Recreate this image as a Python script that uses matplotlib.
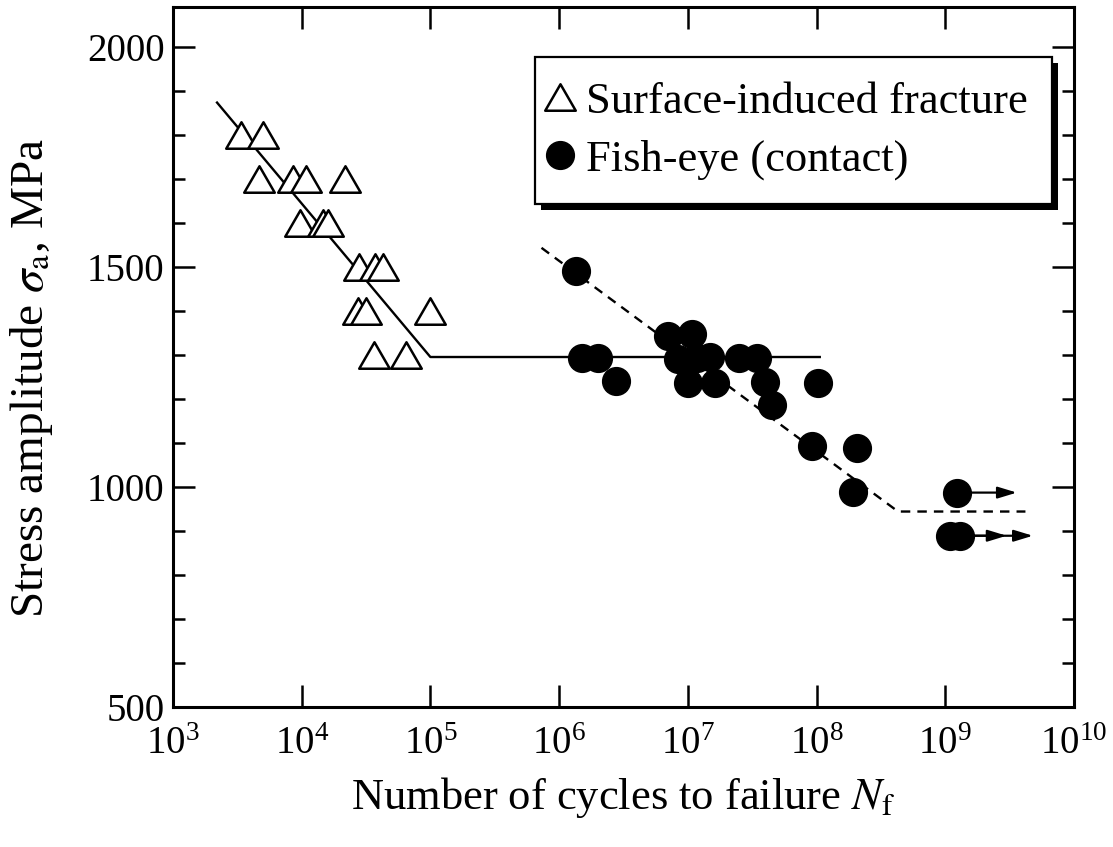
import matplotlib
matplotlib.use("Agg")
import matplotlib.pyplot as plt
from matplotlib.patches import Rectangle
from matplotlib.path import Path
from matplotlib.transforms import IdentityTransform
import numpy as np

plt.rcParams['font.family'] = ['Liberation Serif', 'DejaVu Serif']
plt.rcParams['mathtext.fontset'] = 'stix'

# surface-induced fracture (open triangles)
surf_n = [3.36e3, 4.98e3, 4.69e3, 8.6e3, 1.08e4, 2.16e4, 9.7e3, 1.47e4, 1.6e4,
          2.8e4, 3.7e4, 4.3e4, 2.75e4, 3.16e4, 9.9e4, 3.66e4, 6.5e4]
surf_s = [1800, 1800, 1700, 1700, 1700, 1700, 1600, 1600, 1600,
          1500, 1500, 1500, 1400, 1400, 1400, 1300, 1300]

# fish-eye (filled circles)
fish_n = [1.35e6, 1.52e6, 2.02e6, 2.77e6, 7.06e6, 1.07e7, 8.4e6, 1.17e7, 1.49e7,
          1.01e7, 1.63e7, 2.5e7, 3.43e7, 3.98e7, 4.5e7, 1.03e8, 9.2e7, 2.05e8,
          1.91e8, 1.23e9, 1.09e9, 1.3e9]
fish_s = [1490, 1293, 1293, 1240, 1342, 1348, 1290, 1293, 1296,
          1236, 1236, 1293, 1293, 1239, 1186, 1237, 1092, 1088,
          989, 987, 889, 889]

# fitted lines
solid_n = [2.2e3, 1.0e5, 1.06e8]
solid_s = [1873, 1295, 1295]
dash_n = [7.3e5, 4.3e8, 4.2e9]
dash_s = [1543, 944, 944]

# run-outs: start, end, stress
runout_start = [1.23e9, 1.09e9, 1.3e9]
runout_end = [3.6e9, 3.0e9, 4.8e9]
runout_s = [987, 889, 889]

fig = plt.figure(figsize=(11.13, 8.47), dpi=100)
ax = fig.add_axes([0.1554, 0.1653, 0.8095, 0.8264])

ax.plot(solid_n, solid_s, color='black', lw=1.7, zorder=2)
ax.plot(dash_n, dash_s, color='black', lw=1.7, ls=(0, (4, 3)), zorder=2)

# equilateral triangle centred on its bounding box, closed outline
tri = Path([(-1, -0.866), (1, -0.866), (0, 0.866), (-1, -0.866)],
           [Path.MOVETO, Path.LINETO, Path.LINETO, Path.CLOSEPOLY])
ax.plot(surf_n, surf_s, ls='none', marker=tri, markersize=22, markerfacecolor='white',
        markeredgecolor='black', markeredgewidth=1.8, zorder=3,
        label='Surface-induced fracture')
ax.plot(fish_n, fish_s, ls='none', marker='o', markersize=20, color='black', zorder=4,
        label='Fish-eye (contact)')

for x0, x1, s in zip(runout_start, runout_end, runout_s):
    ax.annotate('', xy=(x1, s), xytext=(x0, s),
                arrowprops=dict(arrowstyle='-|>,head_length=1.15,head_width=0.35',
                                color='black', lw=1.6, shrinkA=0, shrinkB=0),
                zorder=3)

ax.set_xscale('log')
ax.set_xlim(1e3, 1e10)
ax.set_ylim(500, 2090)
ax.set_xticks([10.0 ** k for k in range(3, 11)])
ax.xaxis.set_minor_locator(matplotlib.ticker.NullLocator())
ax.set_yticks([500, 1000, 1500, 2000])
ax.set_yticks(np.arange(500, 2100, 100), minor=True)

ax.tick_params(which='both', direction='in', top=True, right=True, width=1.8)
ax.tick_params(which='major', length=16, labelsize=28)
ax.tick_params(which='minor', length=8.5)
ax.tick_params(axis='x', pad=14)
ax.tick_params(axis='y', pad=6)
for sp in ax.spines.values():
    sp.set_linewidth(2.2)

ax.set_xlabel(r'Number of cycles to failure $N_{\mathrm{f}}$', fontsize=32, labelpad=8)
ax.set_ylabel(r'Stress amplitude $\sigma_{\mathrm{a}}$, MPa', fontsize=34)
ax.yaxis.set_label_coords(-0.131, 0.47)

leg = ax.legend(loc='upper right', bbox_to_anchor=(0.9756, 0.9286), borderaxespad=0,
                fontsize=32, frameon=True, fancybox=False, handletextpad=0.55,
                handlelength=0.05, borderpad=0.55, labelspacing=0.4, markerscale=1.0)
leg.get_frame().set_edgecolor('black')
leg.get_frame().set_linewidth(1.6)
leg.get_frame().set_alpha(1)

fig.canvas.draw()
bb = leg.get_frame().get_window_extent()
shadow = Rectangle((bb.x0 + 6, bb.y0 - 6), bb.width, bb.height, transform=IdentityTransform(),
                   facecolor='black', edgecolor='none', zorder=4.9)
ax.add_artist(shadow)

fig.savefig('out.png', dpi=100)
